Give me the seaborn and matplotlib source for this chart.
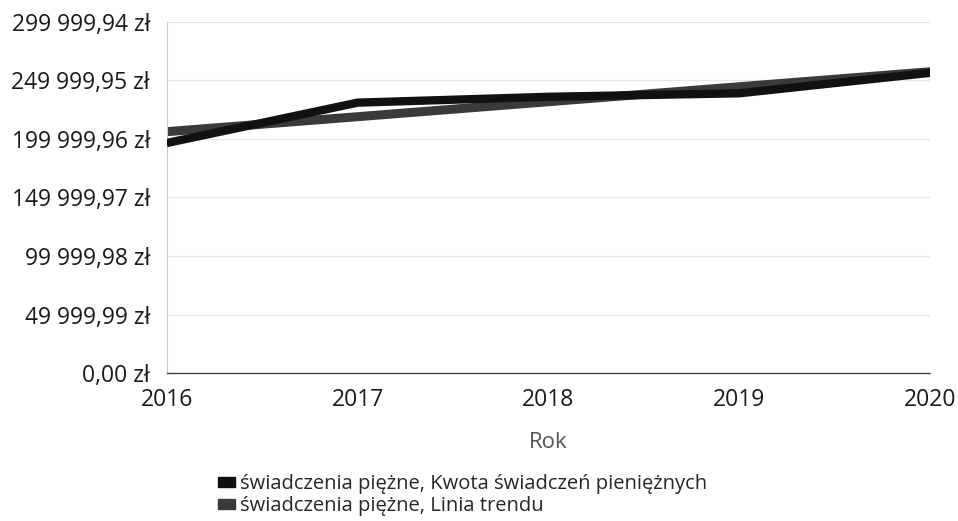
import numpy as np
import pandas as pd
import matplotlib.pyplot as plt
import seaborn as sns
from matplotlib.patches import Patch
from matplotlib.ticker import FuncFormatter

# data
years = [2016, 2017, 2018, 2019, 2020]
kwota = [196500, 231000, 236000, 239000, 256500]
y_ticks = [0, 49999.99, 99999.98, 149999.97, 199999.96, 249999.95, 299999.94]
label_kwota = "świadczenia piężne, Kwota świadczeń pieniężnych"
label_trend = "świadczenia piężne, Linia trendu"

df = pd.DataFrame({"Rok": years, "Kwota": kwota})

sns.set_theme(style="white")
plt.rcParams['font.family'] = ['Open Sans', 'DejaVu Sans']

fig = plt.figure(figsize=(9.58, 5.21), dpi=100)
ax = fig.add_axes([0.174, 0.284, 0.797, 0.674])

# trend line (linear fit done by seaborn)
sns.regplot(data=df, x="Rok", y="Kwota", scatter=False, ci=None, ax=ax,
            line_kws=dict(color="#3a3a3a", lw=6.5, solid_capstyle="butt"))
sns.lineplot(data=df, x="Rok", y="Kwota", color="#111111", lw=6, ax=ax,
             solid_capstyle="butt", zorder=3)

ax.set_xlim(2016, 2020)
ax.set_ylim(0, 299999.94)
ax.set_xticks(years)
ax.set_yticks(y_ticks)


def zl(v, pos):
    s = f"{v:,.2f}".replace(",", " ").replace(".", ",")
    return s + " zł"


ax.yaxis.set_major_formatter(FuncFormatter(zl))
ax.tick_params(axis="both", labelsize=16.5, colors="#1a1a1a", length=0)
ax.tick_params(axis="y", pad=12)
ax.tick_params(axis="x", pad=11)
ax.yaxis.grid(True, color="#e6e6e6", lw=1)
ax.xaxis.grid(False)

for s in ["top", "right"]:
    ax.spines[s].set_visible(False)
ax.spines["left"].set_color("#cccccc")
ax.spines["left"].set_linewidth(0.8)
ax.spines["bottom"].set_color("#444444")
ax.spines["bottom"].set_linestyle((0, (1, 1)))
ax.spines["bottom"].set_linewidth(1)

ax.set_xlabel("Rok", fontsize=16, color="#555555", labelpad=14)
ax.set_ylabel("")

handles = [Patch(color="#111111", label=label_kwota),
           Patch(color="#3a3a3a", label=label_trend)]
fig.legend(handles=handles, loc="upper left", bbox_to_anchor=(0.228, 0.09),
           frameon=False, fontsize=14.5, handlelength=0.8, handleheight=0.4,
           handletextpad=0.25, labelspacing=0.1, borderaxespad=0,
           borderpad=0)

plt.savefig("out.png", dpi=100)
